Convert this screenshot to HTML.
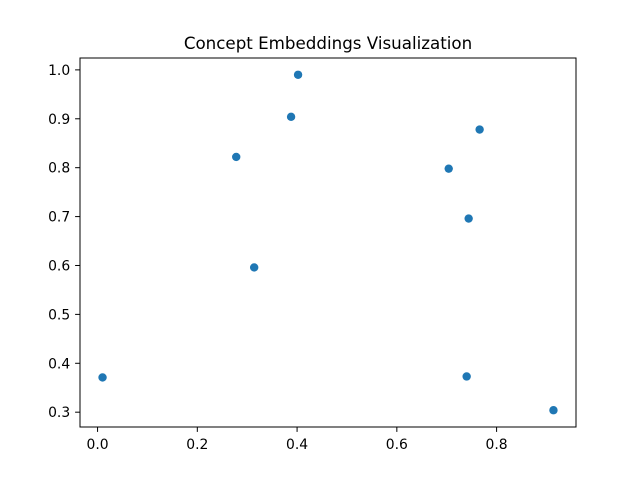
<!DOCTYPE html>
<html><head><meta charset="utf-8"><style>
body{margin:0;background:#fff;}
svg text{font-family:"DejaVu Sans","Liberation Sans",sans-serif;}
</style></head><body>
<svg id="chart" width="640" height="480" xmlns="http://www.w3.org/2000/svg">
<rect width="640" height="480" fill="#fff"/>
<text x="328" y="49" text-anchor="middle" font-size="16.7">Concept Embeddings Visualization</text>
<g id="ticks"></g>
<g id="points"></g>
<rect x="80" y="58" width="496" height="369" fill="none" stroke="#000" stroke-width="1"/>
</svg>
<script>
const xs = [0.01, 0.278, 0.314, 0.388, 0.402, 0.704, 0.744, 0.766, 0.74, 0.914];
const ys = [0.371, 0.822, 0.596, 0.904, 0.990, 0.798, 0.696, 0.878, 0.373, 0.304];
const xTicks = [0.0, 0.2, 0.4, 0.6, 0.8];
const yTicks = [0.3, 0.4, 0.5, 0.6, 0.7, 0.8, 0.9, 1.0];

const L=80,R=576,T=58,B=427;
function ext(a){const mn=Math.min(...a),mx=Math.max(...a),m=(mx-mn)*0.05;return [mn-m,mx+m];}
const [x0,x1]=ext(xs),[y0,y1]=ext(ys);
const sx=v=>L+(v-x0)/(x1-x0)*(R-L);
const sy=v=>B-(v-y0)/(y1-y0)*(B-T);
const NS="http://www.w3.org/2000/svg";
const tg=document.getElementById('ticks'), pg=document.getElementById('points');
function mk(tag,attrs,parent){const e=document.createElementNS(NS,tag);for(const k in attrs)e.setAttribute(k,attrs[k]);parent.appendChild(e);return e;}
xTicks.forEach(v=>{
  const x=sx(v);
  const l=mk('line',{x1:x,x2:x,y1:B,y2:B+4.9,stroke:'#000'},tg);
  
  
  const t=mk('text',{x:x,y:B+22,'text-anchor':'middle','font-size':'13.9'},tg);
  t.textContent=v.toFixed(1);
  
  
});
yTicks.forEach(v=>{
  const y=sy(v);
  const l=mk('line',{x1:L-4.9,x2:L,y1:y,y2:y,stroke:'#000'},tg);
  
  
  const t=mk('text',{x:L-9.8,y:y+5,'text-anchor':'end','font-size':'13.9'},tg);
  t.textContent=v.toFixed(1);
  
  
});
xs.forEach((v,i)=>{
  const c=mk('circle',{cx:sx(v),cy:sy(ys[i]),r:4.2,fill:'#1f77b4'},pg);
  
  
});
</script>
</body></html>
